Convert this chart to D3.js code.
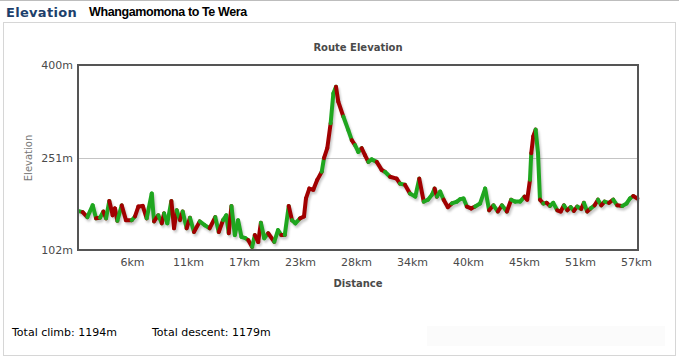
<!DOCTYPE html>
<html>
<head>
<meta charset="utf-8">
<script src="https://cdn.jsdelivr.net/npm/d3@7"></script>
<style>
  html, body { margin: 0; padding: 0; background: #fff; }
  svg { display: block; }
</style>
</head>
<body>
<svg id="chart" width="679" height="358"></svg>
<script>
// ---- data ----
const totalDistanceKm = 56.5;
const distanceKm = [
  0, 0.47, 0.94, 1.48, 1.82, 2.22, 2.56, 2.83, 3.16, 3.50,
  3.73, 3.97, 4.41, 4.84, 5.42, 5.75, 6.09, 6.53, 6.93, 7.44,
  7.67, 8.10, 8.45, 8.68, 9.01, 9.42, 9.69, 9.96, 10.29, 10.56,
  10.96, 11.30, 11.70, 12.28, 12.78, 13.28, 13.85, 14.20, 14.63, 14.96,
  15.21, 15.48, 15.82, 16.15, 16.49, 16.89, 17.17, 17.57, 17.84, 18.18,
  18.45, 18.79, 19.19, 19.80, 20.18, 20.51, 20.86, 21.26, 21.59, 21.93,
  22.40, 22.80, 23.00, 23.34, 23.74, 24.14, 24.59, 24.82, 25.15, 25.49,
  25.76, 26.03, 26.26, 26.77, 27.27, 27.62, 27.95, 28.28, 28.62, 28.95,
  29.29, 29.63, 30.14, 30.64, 30.97, 31.48, 32.15, 32.48, 32.99, 33.49,
  34.03, 34.43, 34.88, 35.31, 35.71, 35.98, 36.21, 36.54, 36.89, 37.32,
  37.72, 38.23, 38.56, 38.90, 39.23, 39.67, 40.07, 40.57, 41.08, 41.48,
  41.92, 42.36, 42.77, 43.27, 43.70, 44.10, 44.61, 45.05, 45.32, 45.60,
  45.73, 45.93, 46.17, 46.41, 46.61, 46.94, 47.28, 47.62, 47.95, 48.35,
  48.70, 49.03, 49.36, 49.70, 50.03, 50.37, 50.77, 51.04, 51.37, 51.72,
  52.12, 52.46, 52.79, 53.13, 53.57, 54.00, 54.40, 54.91, 55.35, 55.69,
  56.02, 56.43
];
const elevationM = [
  165, 163, 155, 174, 153, 154, 164, 153, 181, 158,
  169, 149, 174, 150, 150, 156, 172, 173, 153, 193,
  148, 158, 145, 161, 145, 181, 137, 166, 150, 164,
  137, 154, 131, 148, 142, 137, 155, 131, 150, 158,
  129, 173, 126, 150, 123, 121, 118, 107, 126, 115,
  146, 121, 129, 115, 134, 126, 126, 173, 150, 145,
  153, 156, 185, 201, 199, 215, 228, 250, 266, 306,
  354, 365, 341, 317, 295, 279, 271, 260, 266, 255,
  244, 248, 244, 231, 228, 220, 217, 209, 207, 193,
  188, 217, 180, 183, 191, 201, 188, 196, 183, 171,
  177, 180, 184, 185, 172, 169, 172, 177, 201, 166,
  174, 164, 174, 164, 183, 180, 180, 188, 183, 215,
  258, 285, 296, 258, 183, 177, 178, 173, 178, 166,
  164, 174, 166, 171, 165, 172, 168, 178, 164, 169,
  174, 183, 174, 180, 178, 183, 174, 173, 177, 185,
  189, 185
];
// colour of the segment that starts at each point: g = green, r = red
const segmentColour = (
  "grggrgrgrr" + "rgrrgrrrgg" + "rgrggrrgrg" + "rgrggrgrgg" +
  "rgggggrgrr" + "ggrggrgrgg" + "rrrrrrgrrg" + "grrggrggrr" +
  "ggrrgrrgrg" + "grgggrggrr" + "ggggrrgggr" + "grgrgggrrg" +
  "rrggrgrggr" + "rgrgrgrgrg" + "rgrgrgrggg" + "r"
).split("");
const yTicks = [102, 251, 400];
const yTickLabels = ["102m", "251m", "400m"];
const xTickLabels = ["6km", "11km", "17km", "23km", "28km", "34km", "40km", "45km", "51km", "57km"];
const headerTitle = "Elevation";
const routeName = "Whangamomona to Te Wera";
const chartTitle = "Route Elevation";
const xAxisTitle = "Distance";
const yAxisTitle = "Elevation";
const footerTexts = ["Total climb: 1194m", "Total descent: 1179m"];

// ---- layout ----
const svg = d3.select("#chart");
const W = 679, H = 358;
const plot = { left: 78, right: 638, top: 65, bottom: 250 };
const COLORS = { g: "#1fa61f", r: "#a10000" };

// page chrome
svg.append("line").attr("x1", 0).attr("x2", W).attr("y1", 0.5).attr("y2", 0.5)
  .attr("stroke", "#bdbdbd");
svg.append("rect").attr("x", 3.5).attr("y", 22.5).attr("width", 672).attr("height", 333)
  .attr("fill", "#fff").attr("stroke", "#d6d6d6");
svg.append("rect").attr("x", 427).attr("y", 326).attr("width", 238).attr("height", 20)
  .attr("fill", "#fbfbfb");

svg.append("text").attr("x", 6).attr("y", 17)
  .attr("font-family", "Verdana, 'DejaVu Sans', sans-serif").attr("font-size", 13)
  .attr("font-weight", "bold").attr("letter-spacing", 0.3).attr("fill", "#1d3f6b").text(headerTitle);
svg.append("text").attr("x", 89).attr("y", 16)
  .attr("font-family", "'Liberation Sans', Arial, sans-serif").attr("font-size", 12.5)
  .attr("font-weight", "bold").attr("letter-spacing", -0.4).attr("fill", "#000").text(routeName);

// scales
const x = d3.scaleLinear().domain([0, totalDistanceKm]).range([plot.left, plot.right]);
const y = d3.scaleLinear().domain([yTicks[0], yTicks[yTicks.length - 1]]).range([plot.bottom, plot.top]);

const tickFont = "'DejaVu Sans', Verdana, sans-serif";

// chart title
svg.append("text").attr("x", 358).attr("y", 51).attr("text-anchor", "middle")
  .attr("font-family", tickFont).attr("font-size", 10).attr("font-weight", "bold")
  .attr("fill", "#4a4a4a").text(chartTitle);

// gridline at middle tick
svg.append("g").selectAll("line").data(yTicks.slice(1, -1)).join("line")
  .attr("x1", plot.left).attr("x2", plot.right)
  .attr("y1", d => Math.round(y(d)) + 0.5).attr("y2", d => Math.round(y(d)) + 0.5)
  .attr("stroke", "#c4c4c4").attr("stroke-width", 1);

// y axis labels
const yAxis = d3.axisLeft(y).tickValues(yTicks).tickSize(0).tickPadding(4)
  .tickFormat((d, i) => yTickLabels[i]);
const gy = svg.append("g").attr("transform", `translate(${plot.left - 1},0)`).call(yAxis);
gy.select(".domain").remove();
gy.selectAll("text").attr("font-family", tickFont).attr("font-size", 11).attr("fill", "#4a4a4a");

// x axis labels
const xTickValues = xTickLabels.map((_, i) => totalDistanceKm * (i + 1) / xTickLabels.length);
const xAxis = d3.axisBottom(x).tickValues(xTickValues).tickSize(0).tickPadding(8)
  .tickFormat((d, i) => xTickLabels[i]);
const gx = svg.append("g").attr("transform", `translate(-2,${plot.bottom})`).call(xAxis);
gx.select(".domain").remove();
gx.selectAll("text").attr("font-family", tickFont).attr("font-size", 11).attr("fill", "#4a4a4a");

// axis titles
svg.append("text").attr("x", 358).attr("y", 287).attr("text-anchor", "middle")
  .attr("font-family", tickFont).attr("font-size", 10).attr("font-weight", "bold")
  .attr("fill", "#4a4a4a").text(xAxisTitle);
svg.append("text").attr("transform", "translate(32,158) rotate(-90)").attr("text-anchor", "middle")
  .attr("font-family", tickFont).attr("font-size", 10).attr("fill", "#777").text(yAxisTitle);

// profile
const pts = distanceKm.map((d, i) => [x(d), y(elevationM[i])]);
const segs = d3.range(pts.length - 1).map(i => ({ a: pts[i], b: pts[i + 1], c: segmentColour[i] }));

const defs = svg.append("defs");
defs.append("filter").attr("id", "blur").append("feGaussianBlur").attr("stdDeviation", 1.2);
defs.append("clipPath").attr("id", "clip").append("rect")
  .attr("x", plot.left).attr("y", plot.top).attr("width", plot.right - plot.left + 2)
  .attr("height", plot.bottom - plot.top);

const gLine = svg.append("g").attr("clip-path", "url(#clip)");
gLine.append("path").datum(pts).attr("d", d3.line())
  .attr("transform", "translate(1.5,2.5)")
  .attr("fill", "none").attr("stroke", "rgba(0,0,0,0.22)").attr("stroke-width", 4)
  .attr("stroke-linejoin", "round").attr("filter", "url(#blur)");
gLine.selectAll("line.seg").data(segs).join("line").attr("class", "seg")
  .attr("x1", d => d.a[0]).attr("y1", d => d.a[1])
  .attr("x2", d => d.b[0]).attr("y2", d => d.b[1])
  .attr("stroke", d => COLORS[d.c]).attr("stroke-width", 4).attr("stroke-linecap", "round");

// frame
svg.append("rect").attr("x", plot.left).attr("y", plot.top)
  .attr("width", plot.right - plot.left).attr("height", plot.bottom - plot.top)
  .attr("fill", "none").attr("stroke", "#555").attr("stroke-width", 2);

// footer
svg.selectAll("text.footer").data(footerTexts).join("text").attr("class", "footer")
  .attr("x", (d, i) => [12, 152][i]).attr("y", 336)
  .attr("font-family", "Tahoma, 'DejaVu Sans', sans-serif").attr("font-size", 11)
  .attr("fill", "#000").text(d => d);
</script>
</body>
</html>
